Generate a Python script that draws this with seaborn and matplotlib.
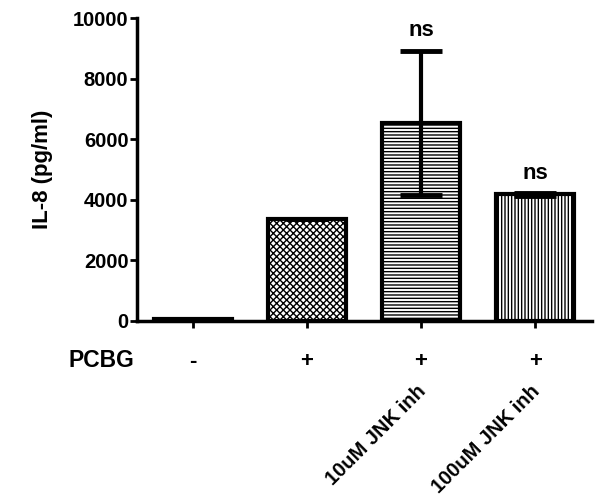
import numpy as np
import pandas as pd
import matplotlib
matplotlib.use('Agg')
import matplotlib.pyplot as plt
import seaborn as sns

groups = ['ctrl', 'pcbg', 'jnk10', 'jnk100']
pcbg_signs = ['-', '+', '+', '+']
inhibitor_labels = ['', '', '10uM JNK inh', '100uM JNK inh']
il8_mean = [50, 3380, 6550, 4180]
il8_sem = [0, 0, 2380, 40]
sig_labels = ['', '', 'ns', 'ns']
hatches = ['', 'xxxxx', '-----', '|||||']

sns.set_theme(style='white')
plt.rcParams['font.family'] = ['Liberation Sans', 'DejaVu Sans']
plt.rcParams['font.weight'] = 'bold'
plt.rcParams['text.color'] = 'black'
plt.rcParams['axes.labelcolor'] = 'black'
plt.rcParams['xtick.color'] = 'black'
plt.rcParams['ytick.color'] = 'black'
plt.rcParams['hatch.color'] = '#444444'
plt.rcParams['hatch.linewidth'] = 1.0

df = pd.DataFrame({'group': groups, 'il8': il8_mean})

fig = plt.figure(figsize=(6.0, 5.03), dpi=100)
ax = fig.add_axes([0.228, 0.362, 0.759, 0.602])

sns.barplot(data=df, x='group', y='il8', order=groups, color='white',
            edgecolor='black', linewidth=3, width=0.68, errorbar=None, ax=ax)
for bar, h in zip(ax.patches, hatches):
    bar.set_hatch(h)

x = np.arange(len(groups))
ax.errorbar(x[1:], il8_mean[1:], yerr=il8_sem[1:], fmt='none', ecolor='black',
            elinewidth=3, capsize=15, capthick=3.5, zorder=5)
for xi, m, s, lab in zip(x, il8_mean, il8_sem, sig_labels):
    if lab:
        ax.text(xi, m + s + 300, lab, ha='center', va='bottom',
                fontsize=16, fontweight='bold')

ax.set_xlim(-0.49, 3.5)
ax.set_ylim(0, 10000)
ax.set_yticks([0, 2000, 4000, 6000, 8000, 10000])
ax.set_xticks(x)
ax.set_xticklabels(pcbg_signs, fontsize=16, fontweight='bold')
ax.set_xlabel('')
ax.set_ylabel('IL-8 (pg/ml)', fontsize=16, fontweight='bold', labelpad=14)
ax.tick_params(axis='y', labelsize=14.5, length=5, width=2, direction='out', left=True, pad=1)
ax.tick_params(axis='x', length=5, width=2, direction='out', bottom=True, pad=17)
for lbl in ax.get_yticklabels():
    lbl.set_fontweight('bold')
sns.despine(ax=ax)
ax.spines['left'].set_linewidth(2.5)
ax.spines['bottom'].set_linewidth(2.5)
ax.spines['left'].set_color('black')
ax.spines['bottom'].set_color('black')

ax.text(-0.005, -0.13, 'PCBG', transform=ax.transAxes, ha='right', va='center',
        fontsize=16.5, fontweight='bold')
for xi, lab in zip(x, inhibitor_labels):
    if lab:
        ax.text(xi - 0.04, -2000, lab, ha='right', va='top', rotation=45,
                rotation_mode='anchor', fontsize=14.5, fontweight='bold')

fig.savefig('out.png', dpi=100)
